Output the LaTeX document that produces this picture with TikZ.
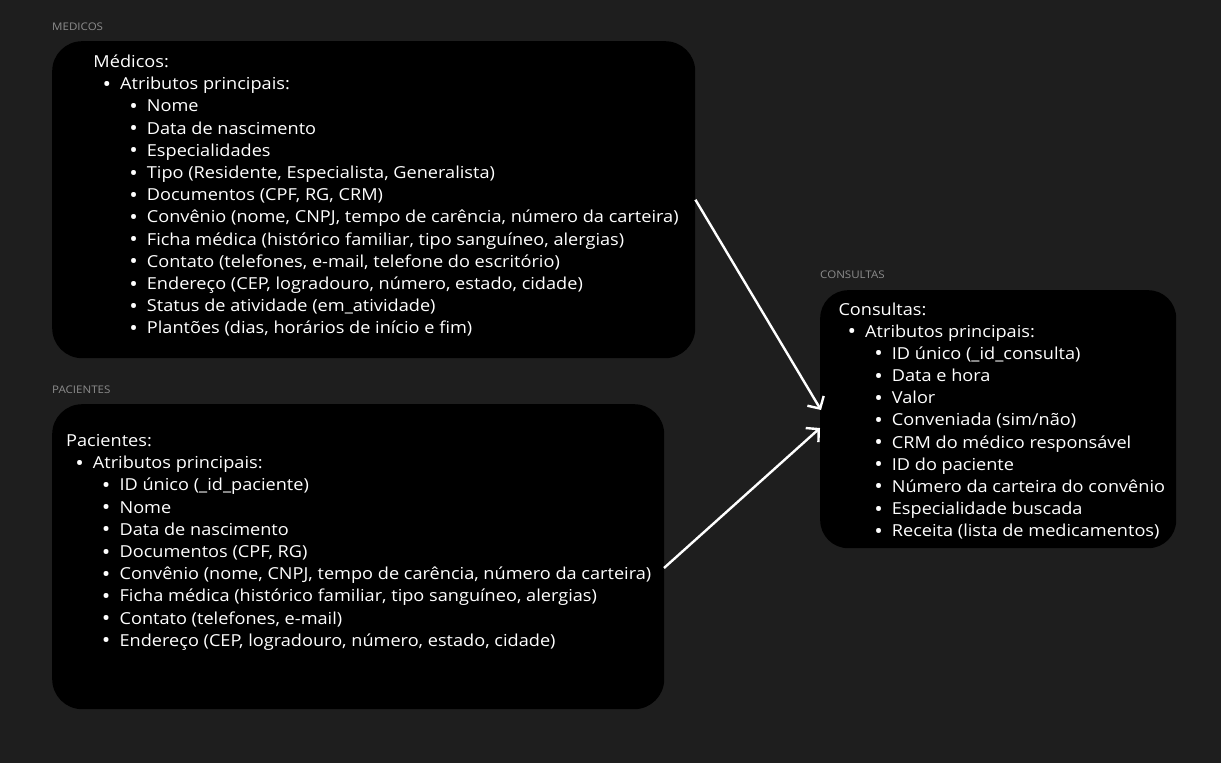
\documentclass[tikz,border=0pt]{standalone}
\usepackage{fontspec}
\setmainfont{Open Sans}[FakeStretch=1.1]
\usetikzlibrary{arrows.meta,calc}
\definecolor{bgc}{HTML}{1E1E1E}
\definecolor{lblc}{HTML}{8C8C8C}
\newcommand{\bul}{\makebox[26.7bp][c]{\raisebox{-1.6bp}{\scalebox{1.25}{•}}}}
\begin{document}
\begin{tikzpicture}[x=1bp,y=-1bp,
  box/.style={fill=black, rounded corners=30bp, inner sep=0, anchor=north west},
  txt/.style={anchor=base west, inner sep=0, text=white, font=\fontsize{16.5bp}{19bp}\selectfont},
  lab/.style={anchor=west, inner sep=0, text=lblc, font=\fontsize{10.5bp}{12bp}\selectfont},
  conn/.style={draw=white, line width=2.4bp, -{Straight Barb[length=9bp,width=19bp]}}]
\fill[bgc] (0,0) rectangle (1221,763);
\useasboundingbox (0,0) rectangle (1221,763);
% boxes
\node[box, minimum width=643bp, minimum height=317bp] (med) at (52,41) {};
\node[box, minimum width=612bp, minimum height=305bp] (pac) at (52,404) {};
\node[box, minimum width=356bp, minimum height=258bp, rounded corners=28bp] (cons) at (820,290) {};
% labels
\node[lab] (lmed) at (52,27) {MEDICOS};
\node[lab] (lpac) at (52,390) {PACIENTES};
\node[lab] (lcons) at (820,275) {CONSULTAS};
% Medicos
\node[txt] (m0) at (93.3,67.5) {Médicos:};
\node[txt] (m1) at (93.3,89.7) {\bul Atributos principais:};
\foreach \t [count=\i] in {Nome, Data de nascimento, Especialidades,
  {Tipo (Residente, Especialista, Generalista)},
  {Documentos (CPF, RG, CRM)},
  {Convênio (nome, CNPJ, tempo de carência, número da carteira)},
  {Ficha médica (histórico familiar, tipo sanguíneo, alergias)},
  {Contato (telefones, e-mail, telefone do escritório)},
  {Endereço (CEP, logradouro, número, estado, cidade)},
  {Status de atividade (em\_atividade)},
  {Plantões (dias, horários de início e fim)}}
  \node[txt] (ms\i) at (120,{89.7+22.2*\i}) {\bul \t};
% Pacientes
\node[txt] (p0) at (66,446.5) {Pacientes:};
\node[txt] (p1) at (66,468.7) {\bul Atributos principais:};
\foreach \t [count=\i] in {{ID único (\_id\_paciente)}, Nome, Data de nascimento,
  {Documentos (CPF, RG)},
  {Convênio (nome, CNPJ, tempo de carência, número da carteira)},
  {Ficha médica (histórico familiar, tipo sanguíneo, alergias)},
  {Contato (telefones, e-mail)},
  {Endereço (CEP, logradouro, número, estado, cidade)}}
  \node[txt] (ps\i) at (92.7,{468.7+22.2*\i}) {\bul \t};
% Consultas
\node[txt] (c0) at (838.3,315) {Consultas:};
\node[txt] (c1) at (838.3,337.2) {\bul Atributos principais:};
\foreach \t [count=\i] in {{ID único (\_id\_consulta)}, Data e hora, Valor,
  {Conveniada (sim/não)},
  {CRM do médico responsável},
  {ID do paciente},
  {Número da carteira do convênio},
  {Especialidade buscada},
  {Receita (lista de medicamentos)}}
  \node[txt] (cs\i) at (865,{337.2+22.17*\i}) {\bul \t};
% connectors
\coordinate (cin1) at (821,410);
\coordinate (cin2) at (820,428);
\coordinate (pout) at (664,568);
\draw[conn] (med.east) -- (cin1);
\draw[conn] (pout) -- (cin2);
\end{tikzpicture}
\end{document}
